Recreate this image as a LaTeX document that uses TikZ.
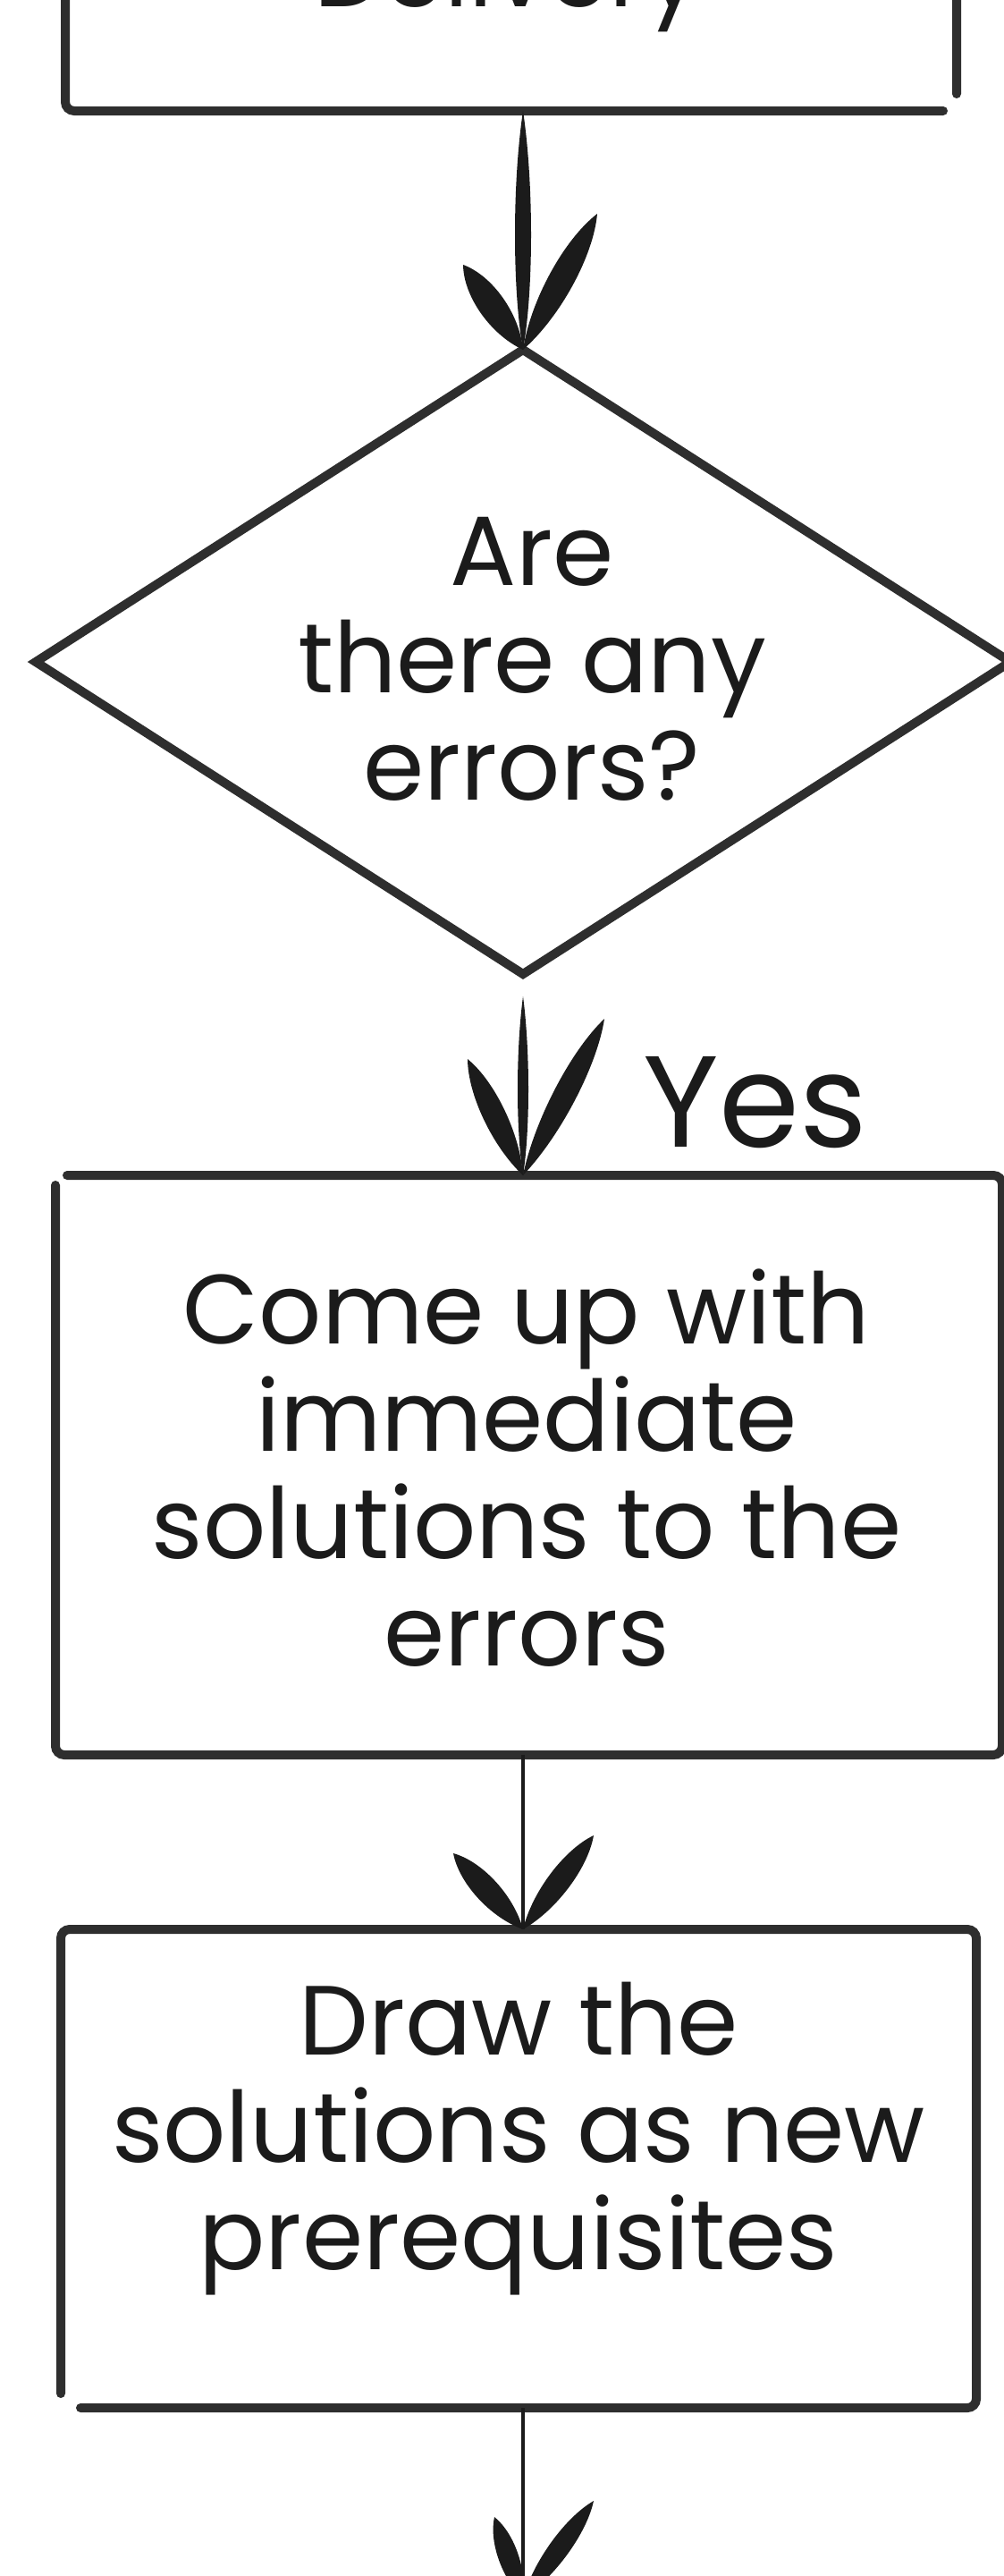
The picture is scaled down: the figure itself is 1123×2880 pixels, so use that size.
\documentclass[tikz,border=0pt]{standalone}
\usepackage{fontspec}
\setmainfont{Poppins}
\usetikzlibrary{calc,shapes.geometric}
\definecolor{ink}{HTML}{1B1B1B}
\definecolor{edge}{HTML}{2E2E2E}
\newcommand\inkleaf[3]{(#1) .. controls ($(#1)!0.3!(#2)!#3!90:(#2)$) and ($(#1)!0.75!(#2)!#3!90:(#2)$) .. (#2) .. controls ($(#2)!0.25!(#1)!#3!90:(#1)$) and ($(#2)!0.7!(#1)!#3!90:(#1)$) .. (#1) -- cycle}
\tikzset{
  headA/.pic={\fill[ink] \inkleaf{0,0}{-67,-95}{20pt} \inkleaf{0,0}{83,-152}{19pt};},
  headB/.pic={\fill[ink] \inkleaf{0,0}{-62,-130}{17pt} \inkleaf{0,0}{91,-175}{17pt};},
  headC/.pic={\fill[ink] \inkleaf{0,0}{-78,-85}{18pt} \inkleaf{0,0}{79,-105}{17pt};},
  headD/.pic={\fill[ink] \inkleaf{0,0}{-32,-91}{15pt} \inkleaf{0,0}{79,-109}{15pt};}
}
\begin{document}
\begin{tikzpicture}[x=1pt,y=-1pt,
  txt/.style={font=\fontsize{110}{120}\selectfont, text=ink, align=center, inner sep=0pt},
  yeslabel/.style={font=\fontsize{145}{150}\selectfont, text=ink, inner sep=0pt},
  outline/.style={draw=edge, line width=10pt, rounded corners=10pt, line cap=round},
  decision/.style={diamond, draw=edge, line width=10pt, inner sep=0pt, outer sep=0pt},
  thinshaft/.style={draw=ink, line width=4pt},
  frame/.style={rectangle, draw=none, inner sep=0pt, outer sep=0pt}]
\clip (0,0) rectangle (1123,2880);
\fill[white] (0,0) rectangle (1123,2880);

% boxes and decision
\node (deliv) [frame, minimum width=997pt, minimum height=424pt] at (571.5,-88) {};
\node (delivtxt) [txt, anchor=base] at (568,8) {Delivery};
\node (err) [decision, minimum width=1090pt, minimum height=698pt] at (585,740) {};
\node (errtxt) [txt] at (595,737) {Are\\there any\\errors?};
\node (b2) [frame, minimum width=1059pt, minimum height=648pt] at (591.5,1638) {};
\node (b2txt) [txt] at (589,1641) {Come up with\\immediate\\solutions to the\\errors};
\node (b3) [frame, minimum width=1024pt, minimum height=535pt] at (580,2424.5) {};
\node (b3txt) [txt] at (580,2391) {Draw the\\solutions as new\\prerequisites};
\node (yes) [yeslabel, anchor=base] at (845,1282) {Yes};
\coordinate (next) at (585,2905);

% sketchy outlines
\draw[outline] ([yshift=19pt]deliv.south east) -- (deliv.north east) -- (deliv.north west) -- (deliv.south west) -- ([xshift=-15pt]deliv.south east);
\draw[outline] ([xshift=13pt]b2.north west) -- (b2.north east) -- (b2.south east) -- (b2.south west) -- ([yshift=-11pt]b2.north west);
\draw[outline] ([xshift=22pt]b3.south west) -- (b3.south east) -- (b3.north east) -- (b3.north west) -- ([yshift=16pt]b3.south west);

% connectors
\fill[ink] \inkleaf{err.north |- deliv.south}{err.north}{12pt};
\pic at (err.north) {headA};
\fill[ink] \inkleaf{err.south |- 0,1114}{err.south |- b2.north}{8pt};
\pic at (err.south |- b2.north) {headB};
\draw[thinshaft] (err.south |- b2.south) -- (err.south |- b3.north);
\pic at (err.south |- b3.north) {headC};
\draw[thinshaft] (err.south |- b3.south) -- (next);
\pic at (next) {headD};
\end{tikzpicture}
\end{document}
